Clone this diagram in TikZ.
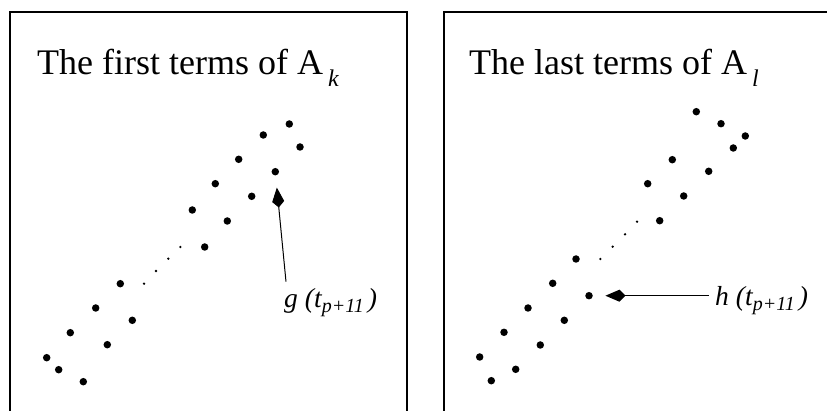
\documentclass[tikz,border=0pt]{standalone}
\usepackage{fontspec}
\setmainfont{Liberation Serif}
\usetikzlibrary{arrows.meta}

\newcommand{\subit}[1]{\lower12pt\hbox{\fontsize{24}{24}\selectfont\itshape #1}}
\newcommand{\tsub}[1]{\lower5pt\hbox{\fontsize{20}{20}\selectfont\itshape #1}}

\begin{document}
\begin{tikzpicture}[x=1pt,y=-1pt,>={Kite[length=20pt,width=12pt,inset=6pt]}]
\tikzset{
  dot/.style={circle,fill,inner sep=0pt,minimum size=7.5pt},
  sdot/.style={circle,fill,inner sep=0pt,minimum size=2.6pt},
  frame/.style={line width=1.2pt},
  title/.style={anchor=base west,inner sep=0pt,font=\fontsize{36}{36}\selectfont},
  lab/.style={anchor=base west,inner sep=0pt,font=\fontsize{27.5}{27.5}\selectfont\itshape}
}
\useasboundingbox (0,0) rectangle (827,411);
% left panel: first terms
\draw[frame] (10,411) -- (10,12) -- (407,12) -- (407,411);
\node[title] (tk) at (37,75) {The first terms of A\kern5pt\subit{k}};
\foreach \x/\y [count=\i] in {289.3/124, 263.3/135, 300/147, 238.7/159.3, 275.3/171.7,
  215.3/183.7, 251.7/196.3, 192.3/210, 227.3/221, 204.7/247, 120.3/283.7, 95.7/308,
  132.3/320.3, 70.3/332.7, 107.3/344.7, 46.7/357.7, 58.7/369.7, 83.3/381.7}
  \node[dot] (f\i) at (\x,\y) {};
\foreach \x/\y [count=\i] in {180.3/247, 168.3/258.7, 156/271, 144/283.7}
  \node[sdot] (fs\i) at (\x,\y) {};
\node[lab] (g) at (284,308) {g\kern7pt(t\tsub{p+11}\kern4pt)};
\coordinate (gs) at (286,281.7);
\draw[->,line width=1pt,shorten >=12pt] (gs) -- (f5);
% right panel: last terms
\draw[frame] (444,411) -- (444,12) -- (827,12);
\node[title] (tl) at (469,75) {The last terms of A\kern5pt\subit{l}};
\foreach \x/\y [count=\i] in {696.3/111.7, 721/123.7, 745.3/136, 733.3/148, 672.3/159.7,
  708.7/171.3, 647.7/183.7, 683.7/196, 659.7/220.7, 576/259, 552.7/283.3, 589/295.7,
  528/308, 564.3/320.3, 504/332.3, 540.3/345, 479.7/357, 515.7/369.3, 491.3/380.7}
  \node[dot] (l\i) at (\x,\y) {};
\foreach \x/\y [count=\i] in {637/221.7, 625/234.3, 612.7/246.7, 600.3/259}
  \node[sdot] (ls\i) at (\x,\y) {};
\node[lab] (h) at (715,306) {h\kern7pt(t\tsub{p+11}\kern4pt)};
\coordinate (hs) at (708.7,295.7);
\draw[->,line width=1pt,shorten >=12.5pt] (hs) -- (l12);
\end{tikzpicture}
\end{document}
